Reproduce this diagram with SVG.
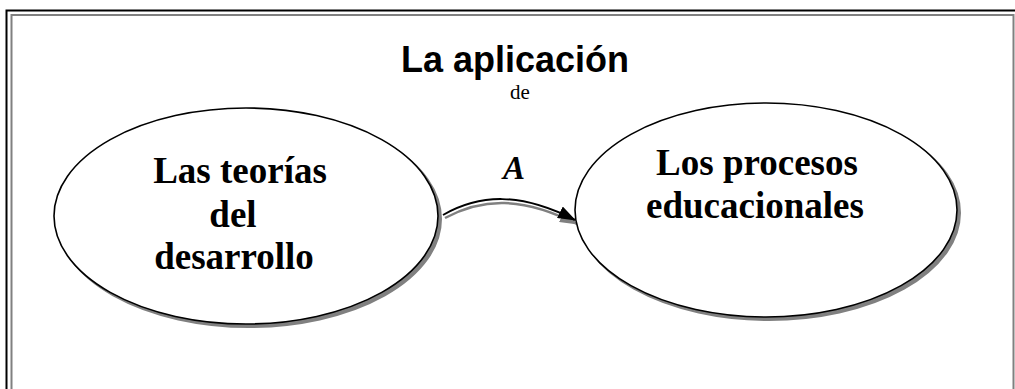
<svg xmlns="http://www.w3.org/2000/svg" width="1015" height="389" viewBox="0 0 1015 389">
<style>
.shadow{fill:#808080;stroke:#808080;stroke-width:2}
.node{fill:#fff;stroke:#000;stroke-width:1.6}
.lbl{font-family:"Liberation Serif","Times New Roman",serif;font-weight:bold;font-size:37px;fill:#000;text-anchor:middle}
.title{font-family:"Liberation Sans",Arial,sans-serif;font-weight:bold;font-size:36px;fill:#000;text-anchor:middle}
.sub{font-family:"Liberation Serif","Times New Roman",serif;font-size:21px;fill:#000;text-anchor:middle}
.elbl{font-family:"Liberation Serif","Times New Roman",serif;font-weight:bold;font-style:italic;font-size:33px;fill:#000;text-anchor:middle}
</style>
<defs>
<marker id="ah" markerWidth="18" markerHeight="13" refX="17" refY="6.5" orient="auto" markerUnits="userSpaceOnUse" viewBox="0 0 18 13">
<path d="M0,0 L18,6.5 L0,13 Z" fill="#000"/>
</marker>
<marker id="ahs" markerWidth="18" markerHeight="13" refX="17" refY="6.5" orient="auto" markerUnits="userSpaceOnUse" viewBox="0 0 18 13">
<path d="M0,0 L18,6.5 L0,13 Z" fill="#808080"/>
</marker>
</defs>
<rect width="1015" height="389" fill="#fff"/>
<g id="frame" fill="none">
<path d="M6.5,389 V10.5 H1015" stroke="#000" stroke-width="2"/>
<path d="M11.5,389 V15 H1013.5 V389" stroke="#808080" stroke-width="2"/>
</g>
<g id="title">
<text class="title" x="515" y="72">La aplicación</text>
<text class="sub" x="520" y="99">de</text>
</g>
<g id="connectors">
<path d="M445,218 C482,198 522,196 577,224" fill="none" stroke="#808080" stroke-width="2.5" marker-end="url(#ahs)"/>
<path d="M443,215 C480,194 520,192 575,220" fill="none" stroke="#000" stroke-width="2" marker-end="url(#ah)"/>
<text class="elbl" x="514" y="179">A</text>
</g>
<g id="node-teorias">
<ellipse class="shadow" cx="249" cy="219" rx="192" ry="108"/>
<ellipse class="node" cx="246" cy="216" rx="192" ry="108"/>
<text class="lbl" x="240" y="183">Las teorías</text>
<text class="lbl" x="233" y="227">del</text>
<text class="lbl" x="234" y="269">desarrollo</text>
</g>
<g id="node-procesos">
<ellipse class="shadow" cx="769" cy="213" rx="191" ry="107"/>
<ellipse class="node" cx="766" cy="210" rx="191" ry="107"/>
<text class="lbl" x="757" y="175">Los procesos</text>
<text class="lbl" x="755" y="218">educacionales</text>
</g>
</svg>
